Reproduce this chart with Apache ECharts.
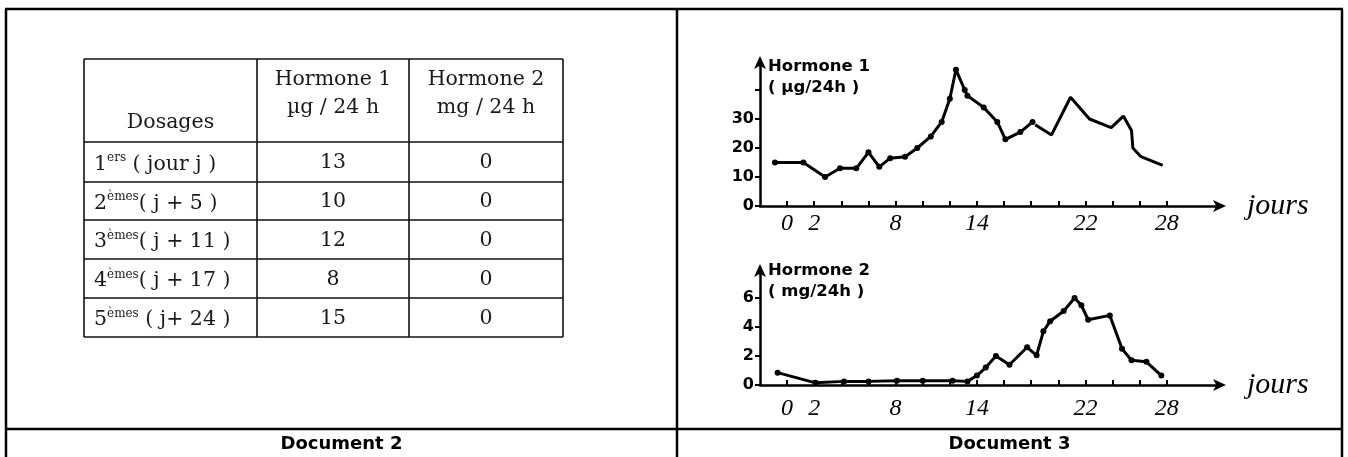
<!DOCTYPE html>
<html><head><meta charset="utf-8">
<script src="https://cdn.jsdelivr.net/npm/echarts@6/dist/echarts.min.js"></script>
<style>html,body{margin:0;padding:0;background:#fff}#c{width:1348px;height:457px}</style>
</head><body><div id="c"></div>
<script>
// ---------- Document 2 : table ----------
const tableHeaders = ['Dosages', 'Hormone 1', 'Hormone 2'];
const tableUnits = ['', 'µg / 24 h', 'mg / 24 h'];
const dosageOrdinals = ['1', '2', '3', '4', '5'];
const dosageSuffixes = ['ers', 'èmes', 'èmes', 'èmes', 'èmes'];
const dosageDays = [' ( jour j )', '( j + 5 )', '( j + 11 )', '( j + 17 )', ' ( j+ 24 )'];
const tableHormone1 = [13, 10, 12, 8, 15];
const tableHormone2 = [0, 0, 0, 0, 0];

// ---------- Document 3 : curves ----------
const h1DaysA   = [-0.9, 1.2, 2.8, 3.9, 5.1, 6.0, 6.8, 7.6, 8.7, 9.6, 10.6, 11.4, 12.0, 12.45, 13.1, 13.3, 14.5, 15.5, 16.1, 17.2, 18.1];
const h1ValuesA = [15, 15, 10, 13, 13, 18.5, 13.5, 16.5, 17, 20, 24, 29, 37, 47, 40, 38, 34, 29, 23, 25.5, 29];
const h1DaysB   = [18.3, 19.5, 20.9, 22.3, 23.9, 24.8, 25.4, 25.5, 26.1, 27.7];
const h1ValuesB = [28, 24.5, 37.5, 30, 27, 31, 26, 20, 17, 14];
const h2Days    = [-0.7, 2.1, 4.2, 6.0, 8.1, 10.0, 12.2, 13.3, 14.0, 14.65, 15.4, 16.4, 17.7, 18.4, 18.9, 19.4, 20.4, 21.2, 21.7, 22.2, 23.8, 24.7, 25.4, 26.5, 27.6];
const h2Values  = [0.85, 0.15, 0.25, 0.25, 0.3, 0.3, 0.3, 0.25, 0.65, 1.2, 2.0, 1.4, 2.6, 2.05, 3.7, 4.4, 5.1, 6.0, 5.5, 4.5, 4.8, 2.5, 1.7, 1.6, 0.65];
const dayTickValues  = [0, 2, 4, 6, 8, 10, 12, 14, 16, 18, 20, 22, 24, 26, 28];
const dayLabelValues = [0, 2, 8, 14, 22, 28];
const h1TickValues  = [0, 10, 20, 30, 40];
const h1LabelValues = [0, 10, 20, 30];
const h2TickValues  = [0, 2, 4, 6];
const h2LabelValues = [0, 2, 4, 6];
const captions = ['Document 2', 'Document 3'];

// ---------- layout ----------
const W = 1348, H = 457;
const frameTop = 9, frameLeft = 6, frameRight = 1342, frameMid = 677, frameBottomLine = 429;
const colX = [84, 257, 409, 563];
const rowY = [59, 142, 182, 220, 259, 298, 337];
const serif = 'DejaVu Serif';
const tableFontSize = 20.5;
const tableColor = '#1a1a1a';

const g = [];
function line(x1, y1, x2, y2, w, c) {
  g.push({ type: 'line', silent: true, shape: { x1, y1, x2, y2 }, style: { stroke: c || '#000', lineWidth: w } });
}
function text(x, y, t, style) {
  g.push({ type: 'text', silent: true, x, y, style: Object.assign({ text: t, fill: tableColor, align: 'center', verticalAlign: 'middle' }, style) });
}
// frame
line(frameLeft - 1, frameTop, frameRight + 1, frameTop, 2.5);
line(frameLeft, frameTop, frameLeft, H, 2.5);
line(frameRight, frameTop, frameRight, H, 2.5);
line(frameMid, frameTop, frameMid, H, 2.5);
line(frameLeft - 1, frameBottomLine, frameRight + 1, frameBottomLine, 2.5);
// captions
text((frameLeft + frameMid) / 2, 444, captions[0], { fontFamily: 'DejaVu Sans', fontWeight: 'bold', fontSize: 18, fill: '#000' });
text((frameMid + frameRight) / 2, 444, captions[1], { fontFamily: 'DejaVu Sans', fontWeight: 'bold', fontSize: 18, fill: '#000' });
// table grid
rowY.forEach(y => line(colX[0], y, colX[3], y, 1.6, '#111'));
colX.forEach(x => line(x, rowY[0], x, rowY[rowY.length - 1], 1.6, '#111'));
// header
const tf = { fontFamily: serif, fontSize: tableFontSize };
text((colX[0] + colX[1]) / 2, 123, tableHeaders[0], tf);
for (let c = 1; c < 3; c++) {
  text((colX[c] + colX[c + 1]) / 2, 80, tableHeaders[c], tf);
  text((colX[c] + colX[c + 1]) / 2, 108, tableUnits[c], tf);
}
// rows
for (let r = 0; r < 5; r++) {
  const yc = (rowY[r + 1] + rowY[r + 2]) / 2 + 1;
  g.push({ type: 'text', silent: true, x: colX[0] + 10, y: yc, style: {
    text: '{n|' + dosageOrdinals[r] + '}{s|' + dosageSuffixes[r] + '}{n|' + dosageDays[r] + '}',
    align: 'left', verticalAlign: 'middle', fill: tableColor,
    rich: {
      n: { fontFamily: serif, fontSize: tableFontSize, fill: tableColor, lineHeight: 24, verticalAlign: 'bottom' },
      s: { fontFamily: serif, fontSize: 12, fill: tableColor, lineHeight: 24, verticalAlign: 'top', padding: [1, 0, 0, 0] }
    }
  } });
  text((colX[1] + colX[2]) / 2, yc, String(tableHormone1[r]), tf);
  text((colX[2] + colX[3]) / 2, yc, String(tableHormone2[r]), tf);
}

// ---------- charts ----------
const axisColor = '#000';
const handFont = { fontFamily: 'Liberation Serif', fontStyle: 'italic', fontSize: 24, color: '#000' };
function xAxisCfg(gi, margin) {
  return {
    type: 'value', gridIndex: gi, min: -2, max: 32, interval: 2,
    axisLine: { show: true, onZero: false, lineStyle: { color: axisColor, width: 2.5 }, symbol: ['none', 'arrow'], symbolSize: [9, 13], symbolOffset: [0, 5] },
    axisTick: { show: true, inside: true, length: 5, lineStyle: { color: axisColor, width: 2 }, customValues: dayTickValues },
    axisLabel: Object.assign({ show: true, margin: margin, customValues: dayLabelValues }, handFont),
    splitLine: { show: false },
    name: 'jours', nameLocation: 'end', nameGap: 26,
    nameTextStyle: { fontFamily: 'Liberation Serif', fontStyle: 'italic', fontSize: 30, color: '#000', align: 'left', verticalAlign: 'middle', padding: [0, 0, 18, 0] }
  };
}
function yAxisCfg(gi, max, interval, ticks, labels, name, nameGap) {
  return {
    type: 'value', gridIndex: gi, min: 0, max: max, interval: interval,
    axisLine: { show: true, onZero: false, lineStyle: { color: axisColor, width: 2.5 }, symbol: ['none', 'arrow'], symbolSize: [9, 13], symbolOffset: [0, 5] },
    axisTick: { show: true, length: 5, lineStyle: { color: axisColor, width: 2 }, customValues: ticks },
    axisLabel: { show: true, margin: 6, customValues: labels, fontFamily: 'DejaVu Sans', fontWeight: 'bold', fontSize: 16, color: '#000' },
    splitLine: { show: false },
    name: name, nameLocation: 'end', nameGap: nameGap,
    nameTextStyle: { fontFamily: 'DejaVu Sans', fontWeight: 'bold', fontSize: 16.5, color: '#000', align: 'left', verticalAlign: 'top', lineHeight: 21, padding: [0, 0, 0, 8] }
  };
}
const lineSeries = (xi, days, vals, sym, width) => ({
  type: 'line', xAxisIndex: xi, yAxisIndex: xi,
  data: days.map((d, i) => [d, vals[i]]),
  symbol: sym ? 'circle' : 'none', symbolSize: 6, showSymbol: !!sym,
  itemStyle: { color: '#000' }, lineStyle: { color: '#000', width: width },
  animation: false, silent: true
});

const option = {
  backgroundColor: '#fff',
  animation: false,
  grid: [
    { left: 760, right: W - 1221, top: 61, bottom: H - 206 },
    { left: 760, right: W - 1221, top: 269, bottom: H - 385 }
  ],
  xAxis: [xAxisCfg(0, 6), xAxisCfg(1, 12)],
  yAxis: [
    yAxisCfg(0, 50, 10, h1TickValues, h1LabelValues, 'Hormone 1\n( µg/24h )', 5),
    yAxisCfg(1, 8, 2, h2TickValues, h2LabelValues, 'Hormone 2\n( mg/24h )', 9)
  ],
  series: [
    lineSeries(0, h1DaysA, h1ValuesA, true, 3),
    lineSeries(0, h1DaysB, h1ValuesB, false, 3),
    lineSeries(1, h2Days, h2Values, true, 3)
  ],
  graphic: g
};
const chart = echarts.init(document.getElementById('c'), null, { renderer: 'canvas' });
chart.setOption(option);
</script></body></html>
